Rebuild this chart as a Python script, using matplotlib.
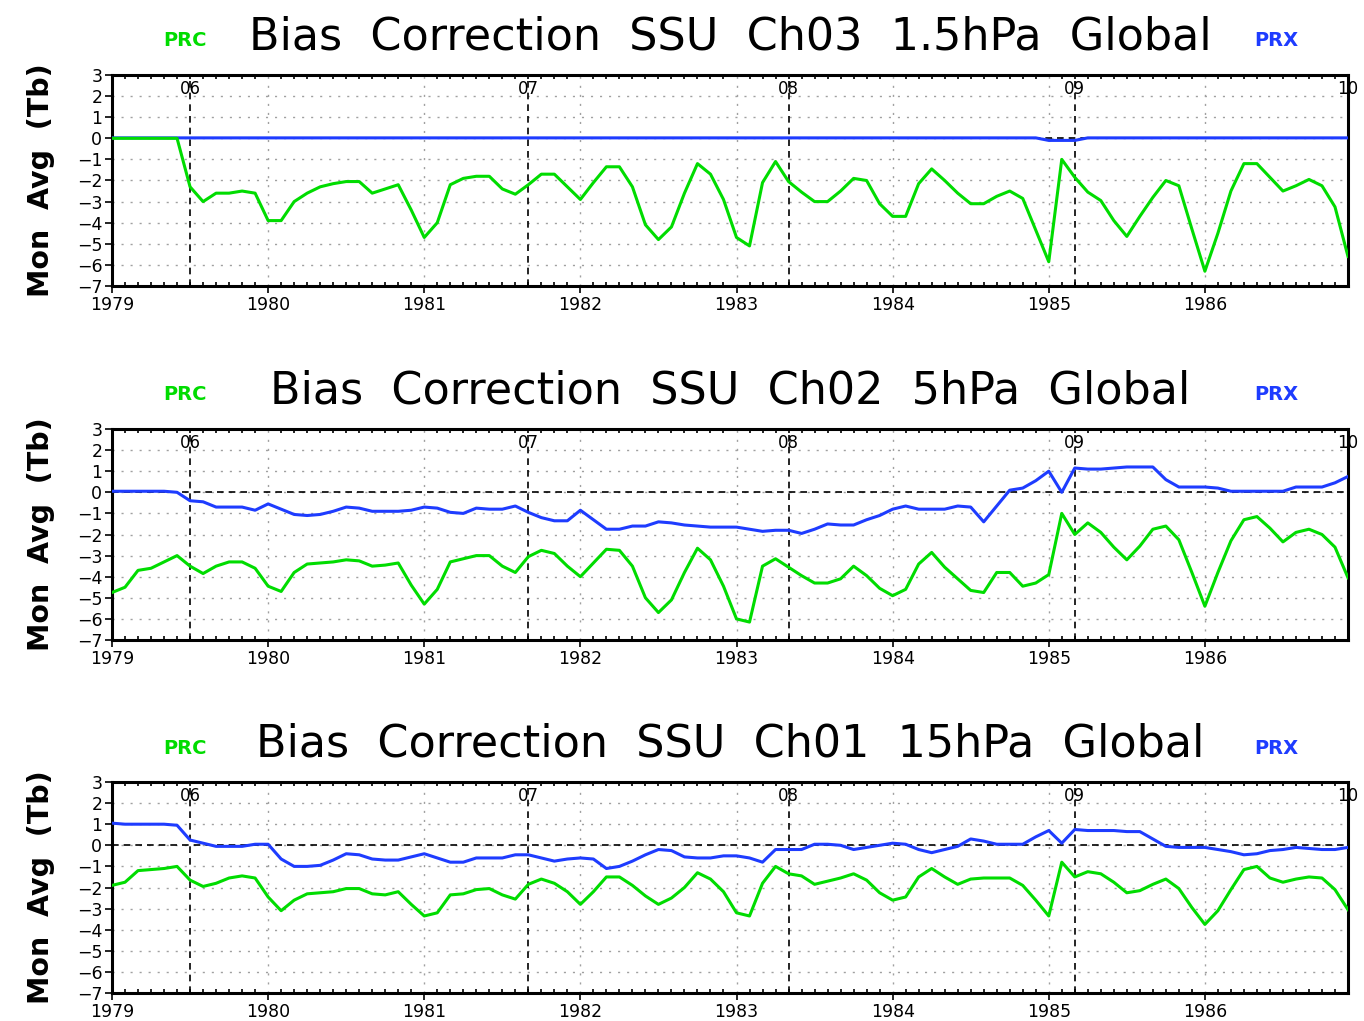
import numpy as np
import matplotlib
matplotlib.use("Agg")
import matplotlib.pyplot as plt
from matplotlib.ticker import MultipleLocator

# monthly values Jan 1979 - Dec 1986
start_year = 1979
n_months = 96

titles = ["Bias  Correction  SSU  Ch03  1.5hPa  Global",
          "Bias  Correction  SSU  Ch02  5hPa  Global",
          "Bias  Correction  SSU  Ch01  15hPa  Global"]

# satellite change markers (month index) and their labels
sat_months = [6, 32, 52, 74, 95]
sat_labels = ["06", "07", "08", "09", "10"]

prc_ch03 = [0, 0, 0, 0, 0, 0, -2.3, -3.0, -2.6, -2.6, -2.5, -2.6,
            -3.9, -3.9, -3.0, -2.6, -2.3, -2.15, -2.05, -2.05, -2.6, -2.4, -2.2, -3.4,
            -4.7, -4.0, -2.2, -1.9, -1.8, -1.8, -2.4, -2.65, -2.2, -1.7, -1.7, -2.3,
            -2.9, -2.1, -1.35, -1.35, -2.3, -4.1, -4.8, -4.2, -2.6, -1.2, -1.7, -2.9,
            -4.7, -5.1, -2.1, -1.1, -2.05, -2.55, -3.0, -3.0, -2.5, -1.9, -2.0, -3.1,
            -3.7, -3.7, -2.15, -1.45, -2.0, -2.6, -3.1, -3.1, -2.75, -2.5, -2.85, -4.35,
            -5.85, -1.0, -1.85, -2.55, -2.95, -3.9, -4.65, -3.7, -2.8, -2.0, -2.25, -4.3,
            -6.3, -4.5, -2.5, -1.2, -1.2, -1.85, -2.5, -2.25, -1.95, -2.25, -3.25, -5.6]
prx_ch03 = [0.02] * 72 + [-0.1, -0.1, -0.1] + [0.02] * 21

prc_ch02 = [-4.75, -4.5, -3.7, -3.6, -3.3, -3.0, -3.5, -3.85, -3.5, -3.3, -3.3, -3.6,
            -4.45, -4.7, -3.8, -3.4, -3.35, -3.3, -3.2, -3.25, -3.5, -3.45, -3.35, -4.4,
            -5.3, -4.6, -3.3, -3.15, -3.0, -3.0, -3.5, -3.8, -3.05, -2.75, -2.9, -3.5,
            -4.0, -3.35, -2.7, -2.75, -3.5, -5.0, -5.7, -5.1, -3.8, -2.65, -3.2, -4.45,
            -6.0, -6.15, -3.5, -3.15, -3.55, -3.95, -4.3, -4.3, -4.1, -3.5, -3.95, -4.55,
            -4.9, -4.6, -3.4, -2.85, -3.55, -4.1, -4.65, -4.75, -3.8, -3.8, -4.45, -4.3,
            -3.9, -1.0, -2.0, -1.45, -1.9, -2.6, -3.2, -2.55, -1.75, -1.6, -2.25, -3.8,
            -5.4, -3.8, -2.3, -1.3, -1.15, -1.7, -2.35, -1.9, -1.75, -2.0, -2.6, -4.05]
prx_ch02 = [0.05, 0.05, 0.05, 0.05, 0.05, 0.0, -0.4, -0.45, -0.7, -0.7, -0.7, -0.85,
            -0.55, -0.8, -1.05, -1.1, -1.05, -0.9, -0.7, -0.75, -0.9, -0.9, -0.9, -0.85,
            -0.7, -0.75, -0.95, -1.0, -0.75, -0.8, -0.8, -0.65, -0.95, -1.2, -1.35, -1.35,
            -0.85, -1.3, -1.75, -1.75, -1.6, -1.6, -1.4, -1.45, -1.55, -1.6, -1.65, -1.65,
            -1.65, -1.75, -1.85, -1.8, -1.8, -1.95, -1.75, -1.5, -1.55, -1.55, -1.3, -1.1,
            -0.8, -0.65, -0.8, -0.8, -0.8, -0.65, -0.7, -1.4, -0.65, 0.1, 0.2, 0.55,
            1.0, 0.0, 1.15, 1.1, 1.1, 1.15, 1.2, 1.2, 1.2, 0.6, 0.25, 0.25,
            0.25, 0.2, 0.05, 0.05, 0.05, 0.05, 0.05, 0.25, 0.25, 0.25, 0.45, 0.75]

prc_ch01 = [-1.9, -1.75, -1.2, -1.15, -1.1, -1.0, -1.65, -1.95, -1.8, -1.55, -1.45, -1.55,
            -2.45, -3.1, -2.6, -2.3, -2.25, -2.2, -2.05, -2.05, -2.3, -2.35, -2.2, -2.8,
            -3.35, -3.2, -2.35, -2.3, -2.1, -2.05, -2.35, -2.55, -1.85, -1.6, -1.8, -2.2,
            -2.8, -2.2, -1.5, -1.5, -1.9, -2.4, -2.8, -2.5, -2.0, -1.3, -1.6, -2.2,
            -3.2, -3.35, -1.8, -1.0, -1.35, -1.45, -1.85, -1.7, -1.55, -1.35, -1.65, -2.25,
            -2.6, -2.45, -1.5, -1.1, -1.5, -1.85, -1.6, -1.55, -1.55, -1.55, -1.9, -2.6,
            -3.35, -0.8, -1.5, -1.25, -1.35, -1.75, -2.25, -2.15, -1.85, -1.6, -2.05, -2.95,
            -3.75, -3.1, -2.1, -1.15, -1.0, -1.55, -1.75, -1.6, -1.5, -1.55, -2.1, -3.05]
prx_ch01 = [1.05, 1.0, 1.0, 1.0, 1.0, 0.95, 0.25, 0.1, -0.05, -0.05, -0.05, 0.05,
            0.05, -0.65, -1.0, -1.0, -0.95, -0.7, -0.4, -0.45, -0.65, -0.7, -0.7, -0.55,
            -0.4, -0.6, -0.8, -0.8, -0.6, -0.6, -0.6, -0.45, -0.45, -0.6, -0.75, -0.65,
            -0.6, -0.65, -1.1, -1.0, -0.75, -0.45, -0.2, -0.25, -0.55, -0.6, -0.6, -0.5,
            -0.5, -0.6, -0.8, -0.2, -0.2, -0.2, 0.05, 0.05, 0.0, -0.2, -0.1, 0.0,
            0.1, 0.05, -0.2, -0.35, -0.2, -0.05, 0.3, 0.2, 0.05, 0.05, 0.05, 0.4,
            0.7, 0.1, 0.75, 0.7, 0.7, 0.7, 0.65, 0.65, 0.3, -0.05, -0.1, -0.1,
            -0.1, -0.2, -0.3, -0.45, -0.4, -0.25, -0.2, -0.1, -0.15, -0.2, -0.2, -0.1]

prc_series = [prc_ch03, prc_ch02, prc_ch01]
prx_series = [prx_ch03, prx_ch02, prx_ch01]

GREEN = "#00dc00"
BLUE = "#1e3cff"

W, H = 1364, 1021
fig = plt.figure(figsize=(W / 100, H / 100), dpi=100)

t = start_year + np.arange(n_months) / 12.0
x_end = start_year + (n_months - 1) / 12.0

panel_tops = [75, 429, 782]
ax_h = 211
left, right = 112, 1348

for k in range(3):
    top = panel_tops[k]
    ax = fig.add_axes([left / W, 1 - (top + ax_h) / H, (right - left) / W, ax_h / H])

    ax.set_xlim(start_year, x_end)
    ax.set_ylim(-7, 3)

    # grid
    for yv in range(-6, 3):
        ax.axhline(yv, color="#a0a0a0", lw=1.0, ls=(0, (1.5, 5)), zorder=1)
    for yr in range(1980, 1987):
        ax.axvline(yr, color="#a0a0a0", lw=1.0, ls=(0, (1.5, 5)), zorder=1)
    ax.axhline(0, color="black", lw=1.2, ls=(0, (4, 3)), zorder=2)

    # satellite change lines
    for m, lab in zip(sat_months, sat_labels):
        xs = start_year + m / 12.0
        if m < n_months - 1:
            ax.axvline(xs, color="black", lw=1.2, ls=(0, (4, 3)), zorder=2)
        ax.text(xs, 2.75, lab, ha="center", va="top", fontsize=12,
                color="black", zorder=5, clip_on=False)

    ax.plot(t, prx_series[k], color=BLUE, lw=2.2, zorder=3)
    ax.plot(t, prc_series[k], color=GREEN, lw=2.2, zorder=4)

    ax.set_yticks(range(-7, 4))
    ax.set_xticks(range(1979, 1987))
    ax.set_xticklabels([str(y) for y in range(1979, 1987)])
    ax.xaxis.set_minor_locator(MultipleLocator(1 / 12.0))
    ax.tick_params(axis="both", which="major", labelsize=12.5, direction="out", length=5, width=1.2)
    ax.tick_params(axis="x", which="minor", direction="in", length=3, width=1.2, top=True, bottom=True)
    ax.tick_params(axis="y", pad=2)
    ax.tick_params(axis="x", pad=2)
    for s in ax.spines.values():
        s.set_linewidth(2.2)

    ax.set_ylabel("Mon  Avg  (Tb)", fontsize=20.5, fontweight="bold")
    ax.yaxis.set_label_coords(-0.046, 0.5)

    # title and legend labels
    title_y = 1 - (top - 38) / H
    fig.text(730 / W, title_y, titles[k], ha="center", va="center", fontsize=32, color="black")
    fig.text(185 / W, 1 - (top - 34) / H, "PRC", ha="center", va="center",
             fontsize=14, fontweight="bold", color=GREEN)
    fig.text(1276 / W, 1 - (top - 34) / H, "PRX", ha="center", va="center",
             fontsize=14, fontweight="bold", color=BLUE)

fig.savefig("out.png", dpi=100, facecolor="white")
